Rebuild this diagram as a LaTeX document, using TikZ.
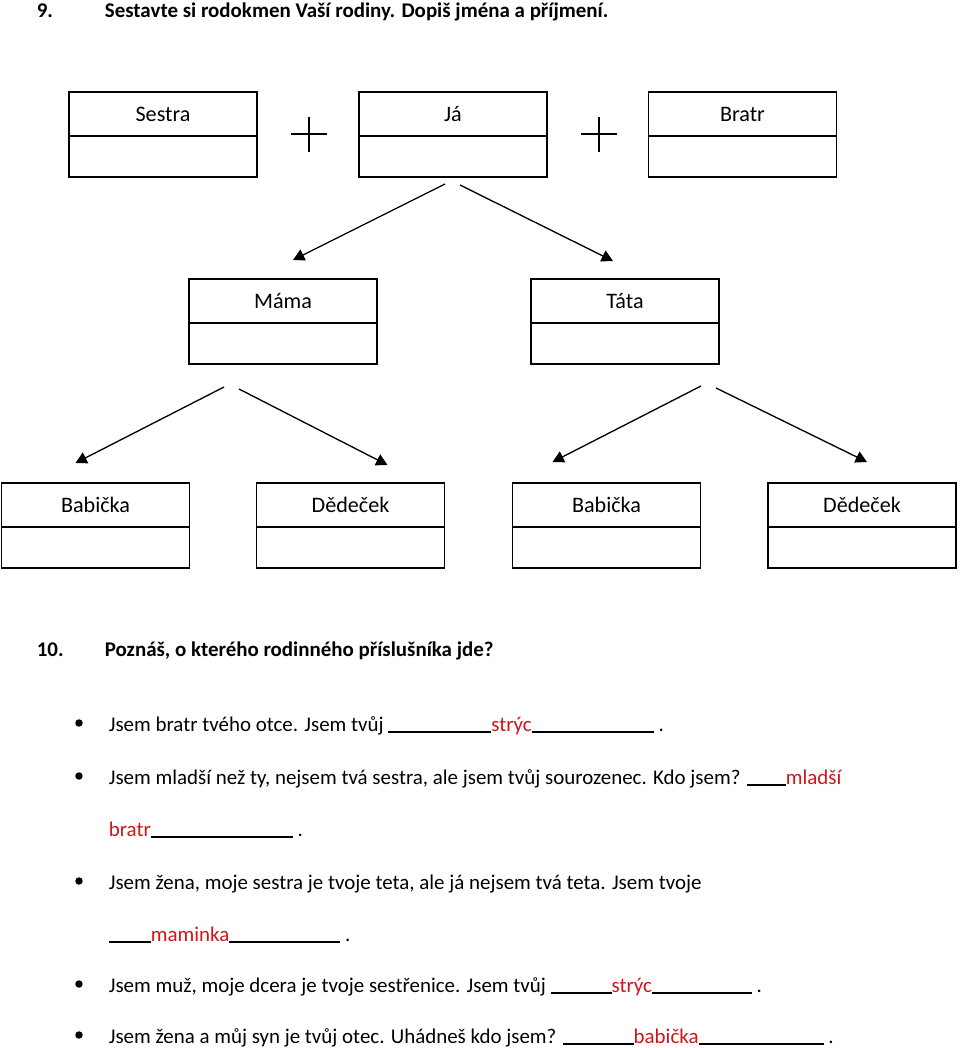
\documentclass[tikz,border=0pt]{standalone}
\usepackage{fontspec}
\setmainfont{Carlito}
\usetikzlibrary{arrows.meta,positioning}
\newlength\pxu \setlength\pxu{0.75pt}
\definecolor{ansred}{RGB}{210,20,25}
\newcommand\blank[1]{\rule[-1.2pt]{#1\pxu}{0.9pt}}
\newcommand\ans[1]{\textcolor{ansred}{#1}}

\begin{document}
\begin{tikzpicture}[x=0.75pt,y=-0.75pt,line width=1.3pt,
  namebox/.style={draw,outer sep=0pt,inner sep=0pt,minimum width=188\pxu,minimum height=44\pxu,font=\fontsize{16.6pt}{19pt}\selectfont},
  blankbox/.style={draw,outer sep=0pt,inner sep=0pt,minimum width=188\pxu,minimum height=41\pxu,below=0pt of #1},
  famarrow/.style={-{Triangle[length=8.5pt,width=9pt]},line width=1pt},
  txt/.style={anchor=base west,inner sep=0pt,font=\fontsize{15.7pt}{18pt}\selectfont},
  head/.style={txt,font=\fontsize{15.7pt}{18pt}\selectfont\bfseries}]
\useasboundingbox (0,0) rectangle (960,1048);
%task 9
\node[head] (q9num) at (36,18) {9.};
\node[head] (q9) at (104,18) {Sestavte si rodokmen Vaší rodiny. Dopiš jména a příjmení.};
%me and siblings
\foreach \nm/\cx/\lbl in {sestra/163/Sestra,ja/453/Já,bratr/742.5/Bratr}{
  \node[namebox] (\nm) at (\cx,114) {\lbl};
  \node[blankbox=\nm] (\nm-b) {};
}
\foreach \cx in {309,599}
\draw (\cx-18,134) -- (\cx+18,134) (\cx,117) -- (\cx,152);
%parents
\foreach \nm/\cx/\lbl in {mama/283/Máma,tata/625/Táta}{
  \node[namebox] (\nm) at (\cx,301) {\lbl};
  \node[blankbox=\nm] (\nm-b) {};
}
%grandparents
\foreach \nm/\cx/\lbl in {babA/95.5/Babička,dedA/350.5/Dědeček,babB/606.5/Babička,dedB/862/Dědeček}{
  \node[namebox] (\nm) at (\cx,505) {\lbl};
  \node[blankbox=\nm] (\nm-b) {};
}
%arrows
\draw[famarrow] ([shift={(-8,7)}]ja-b.south) -- ([shift={(10,-19)}]mama.north);
\draw[famarrow] ([shift={(7,8)}]ja-b.south) -- ([shift={(-12,-18)}]tata.north);
\draw[famarrow] ([shift={(-59,23)}]mama-b.south) -- ([shift={(-20,-20)}]babA.north);
\draw[famarrow] ([shift={(-44,25)}]mama-b.south) -- ([shift={(37,-18)}]dedA.north);
\draw[famarrow] ([shift={(76,22)}]tata-b.south) -- ([shift={(-54,-21)}]babB.north);
\draw[famarrow] ([shift={(91,24)}]tata-b.south) -- ([shift={(5,-21)}]dedB.north);
%task 10
\node[head] (q10num) at (36,656) {10.};
\node[head] (q10) at (104,656) {Poznáš, o kterého rodinného příslušníka jde?};
\foreach \by in {731,784,889,992,1043}
\fill (79,\by-8) circle[radius=2.8pt];
\node[txt] (r1) at (108,731) {Jsem bratr tvého otce. Jsem tvůj \blank{103}\ans{strýc}\blank{122} .};
\node[txt] (r2) at (108,784) {Jsem mladší než ty, nejsem tvá sestra, ale jsem tvůj sourozenec. Kdo jsem? \blank{39}\ans{mladší}};
\node[txt] (r2b) at (108,836) {\ans{bratr}\blank{142} .};
\node[txt] (r3) at (108,889) {Jsem žena, moje sestra je tvoje teta, ale já nejsem tvá teta. Jsem tvoje};
\node[txt] (r3b) at (108,941) {\blank{42}\ans{maminka}\blank{111} .};
\node[txt] (r4) at (108,992) {Jsem muž, moje dcera je tvoje sestřenice. Jsem tvůj \blank{61}\ans{strýc}\blank{100} .};
\node[txt] (r5) at (108,1043) {Jsem žena a můj syn je tvůj otec. Uhádneš kdo jsem? \blank{71}\ans{babička}\blank{125} .};
\end{tikzpicture}
\end{document}
